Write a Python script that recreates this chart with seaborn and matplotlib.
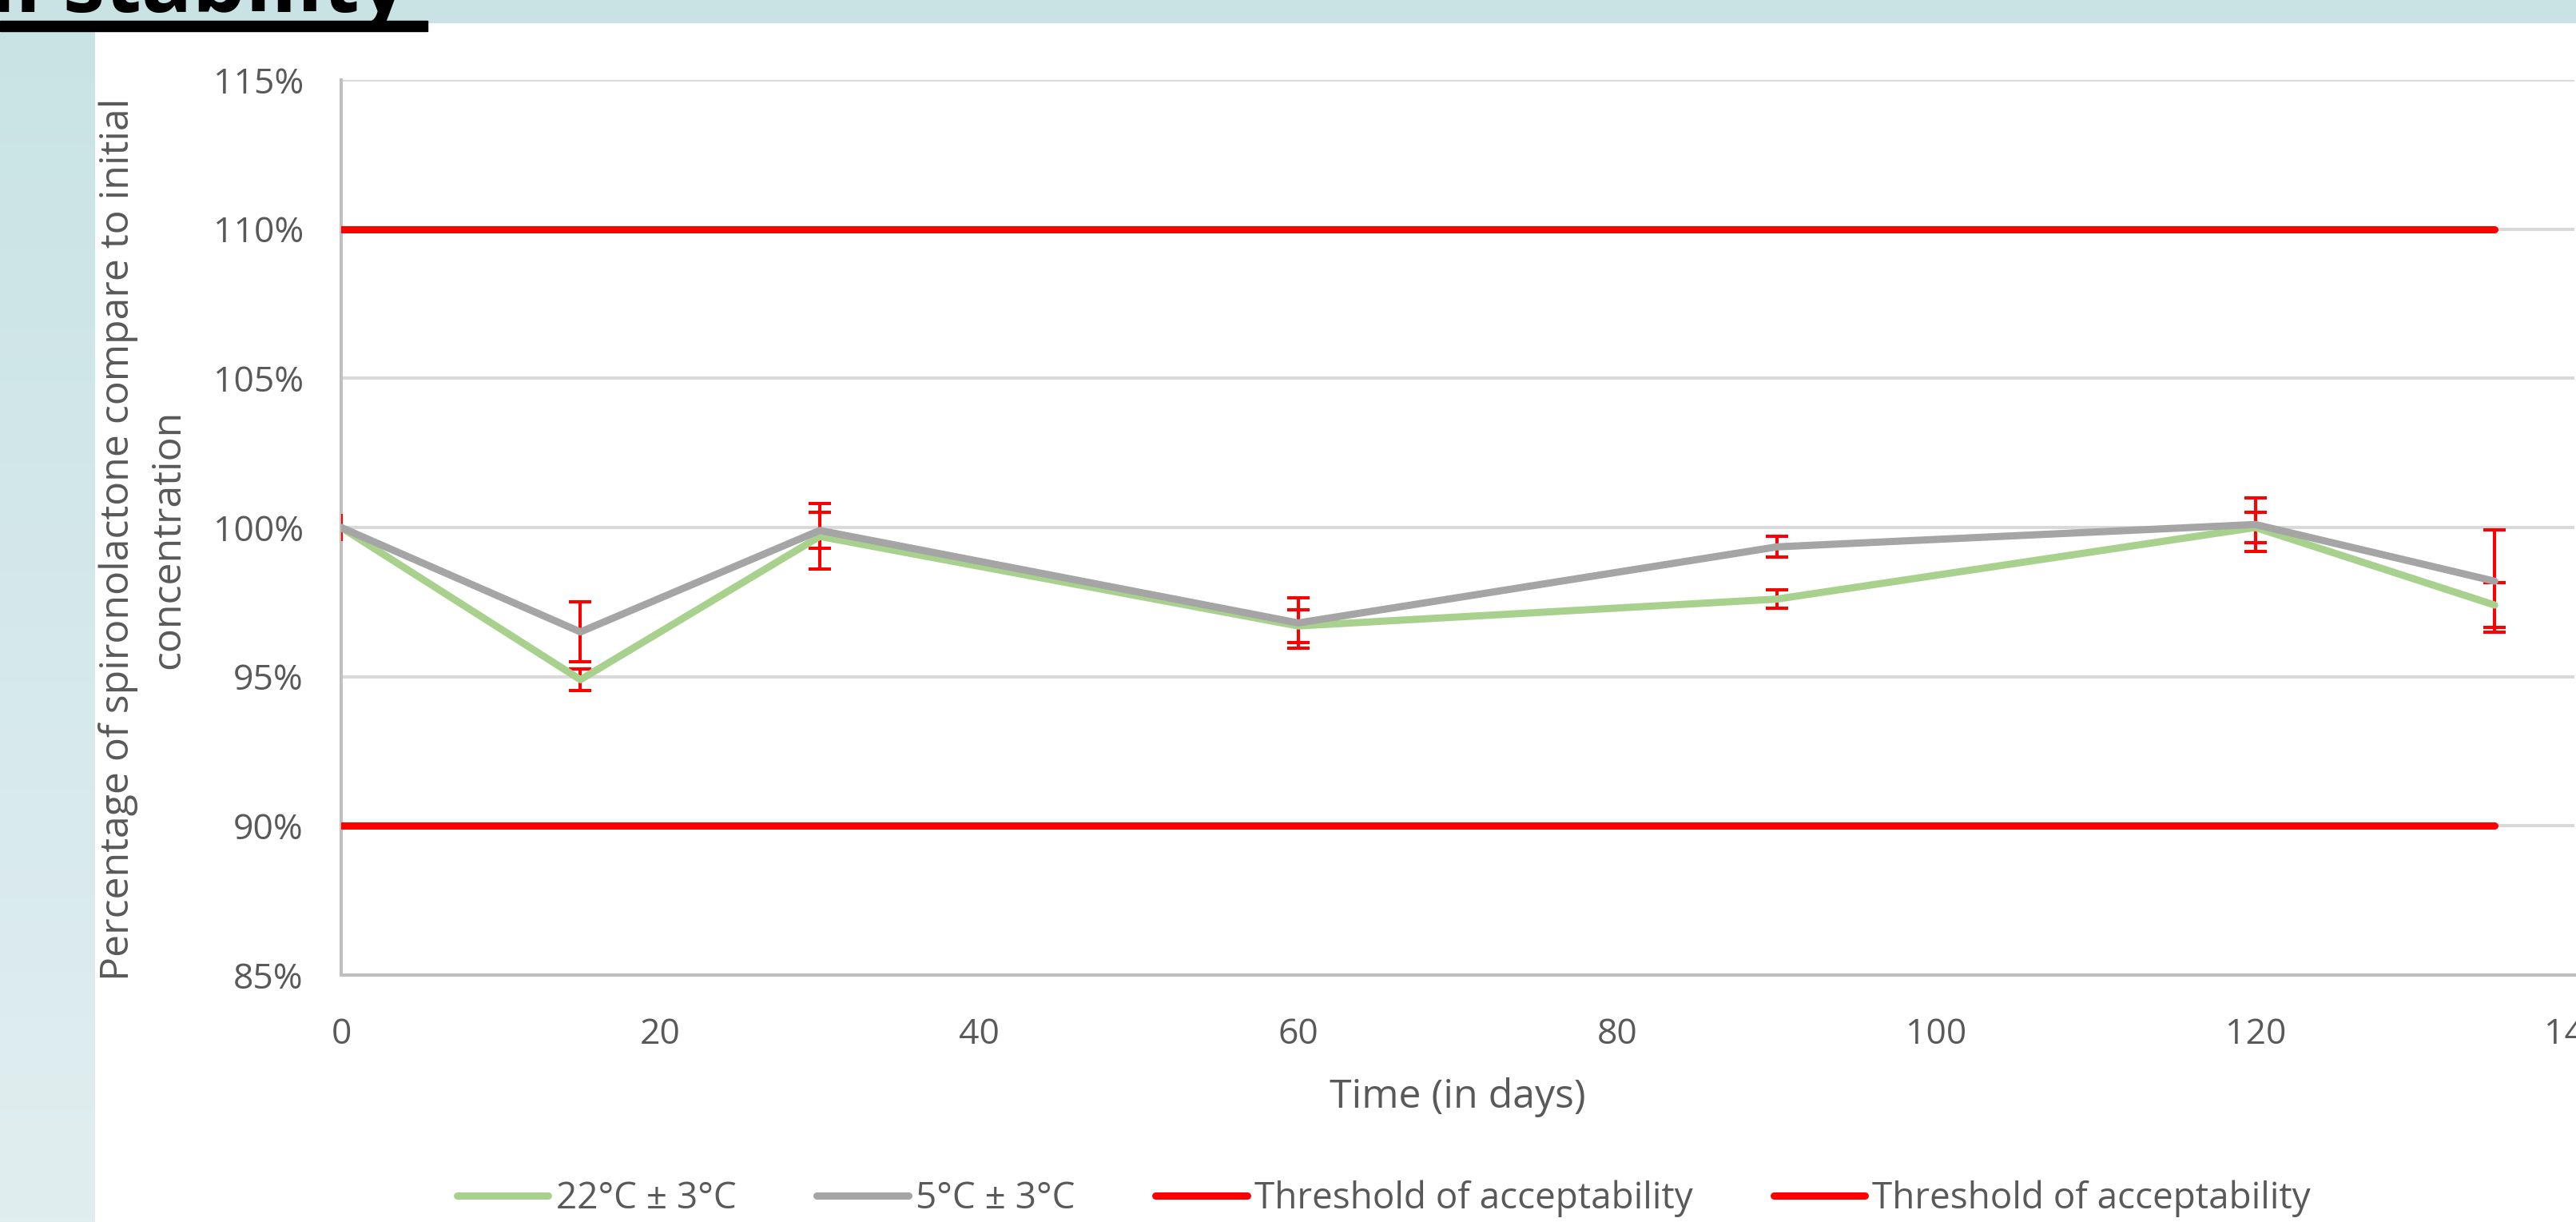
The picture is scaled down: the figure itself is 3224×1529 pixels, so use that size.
import matplotlib.pyplot as plt
import numpy as np
import seaborn as sns
from matplotlib.colors import LinearSegmentedColormap
from matplotlib.patches import Rectangle
from matplotlib.ticker import FuncFormatter

# Stability data (percentage of initial concentration)
days = [0, 15, 30, 60, 90, 120, 135]
room_temp = [100.0, 94.9, 99.7, 96.7, 97.6, 100.0, 97.4]
room_temp_err = [0.45, 0.37, 1.1, 0.55, 0.3, 0.5, 0.75]
fridge = [100.0, 96.5, 99.9, 96.8, 99.35, 100.1, 98.2]
fridge_err = [0.0, 1.0, 0.6, 0.85, 0.35, 0.9, 1.72]

threshold_days = [0, 135]
upper_limit = [110, 110]
lower_limit = [90, 90]

x_ticks = [0, 20, 40, 60, 80, 100, 120, 140]
y_ticks = [85, 90, 95, 100, 105, 110, 115]

GREEN = '#A9D18E'
GRAY = '#A5A5A5'
RED = '#FF0000'
TEXT = '#595959'

W, H = 3224, 1529

sns.set_style('white')
plt.rcParams['font.family'] = ['Open Sans', 'DejaVu Sans']

fig = plt.figure(figsize=(W / 100, H / 100), dpi=100)

# slide decoration: top band, title underline, left gradient strip
fig.patches.append(Rectangle((0, 1 - 28 / H), 1, 28 / H, transform=fig.transFigure,
                             color='#C9E3E4', zorder=0))
fig.text(510 / W, 1 - 15 / H, 'Physicochemical stability', ha='right', va='baseline',
         fontsize=76, fontweight='bold', color='black')
fig.patches.append(Rectangle((0, 1 - 39 / H), 535 / W, 13 / H, transform=fig.transFigure,
                             color='black', zorder=1))
ax_bg = fig.add_axes([0, 0, 119 / W, (H - 39) / H])
ax_bg.imshow(np.linspace(0, 1, 256)[:, None], aspect='auto',
             cmap=LinearSegmentedColormap.from_list('strip', ['#C9E3E5', '#E1EEF0']))
ax_bg.axis('off')

ax = fig.add_axes([427 / W, 1 - 1220 / H, (3222 - 427) / W, 1120 / H])

# error bars under the lines (the day-0 one is drawn without caps, as in the source)
for vals, errs in [(room_temp, room_temp_err), (fridge, fridge_err)]:
    ax.errorbar(days[:1], vals[:1], yerr=errs[:1], fmt='none', ecolor=RED,
                elinewidth=2.9, capsize=0, zorder=3)
    ax.errorbar(days[1:], vals[1:], yerr=errs[1:], fmt='none', ecolor=RED,
                elinewidth=2.9, capsize=10.4, capthick=2.9, zorder=3)

sns.lineplot(x=days, y=room_temp, ax=ax, color=GREEN, lw=6.5,
             label='22°C ± 3°C', zorder=4)
sns.lineplot(x=days, y=fridge, ax=ax, color=GRAY, lw=6.5,
             label='5°C ± 3°C', zorder=5)
sns.lineplot(x=threshold_days, y=upper_limit, ax=ax, color=RED, lw=6.5,
             label='Threshold of acceptability', zorder=4)
sns.lineplot(x=threshold_days, y=lower_limit, ax=ax, color=RED, lw=6.5,
             label='Threshold of acceptability', zorder=4)

ax.set_xlim(0, 140)
ax.set_ylim(85, 115)
ax.set_xticks(x_ticks)
ax.set_yticks(y_ticks)
ax.yaxis.set_major_formatter(FuncFormatter(lambda v, p: f'{v:.0f}%'))
ax.tick_params(length=0, labelsize=32, labelcolor=TEXT)
ax.tick_params(axis='x', pad=38)
ax.tick_params(axis='y', pad=34)

ax.grid(axis='y', color='#D9D9D9', lw=2.9)
ax.set_axisbelow(True)
for side in ['top', 'right']:
    ax.spines[side].set_visible(False)
for side in ['left', 'bottom']:
    ax.spines[side].set_color('#BFBFBF')
    ax.spines[side].set_linewidth(2.9)

ax.set_xlabel('Time (in days)', fontsize=36, color=TEXT)
ax.xaxis.set_label_coords(0.5, -0.114)
ax.set_ylabel('Percentage of spironolactone compare to initial\nconcentration',
              fontsize=36, color=TEXT, linespacing=1.35)
ax.yaxis.set_label_coords(-0.0885, 0.487)
ax.yaxis.label.set_va('center')

handles, labels = ax.get_legend_handles_labels()
ax.get_legend().remove()
fig.legend(handles, labels, loc='center', bbox_to_anchor=(1732 / W, 1 - 1500 / H),
           ncol=4, frameon=False, fontsize=33, handlelength=2.5, handletextpad=0.2,
           columnspacing=2.2, labelcolor=TEXT)

fig.savefig('out.png', dpi=100)
